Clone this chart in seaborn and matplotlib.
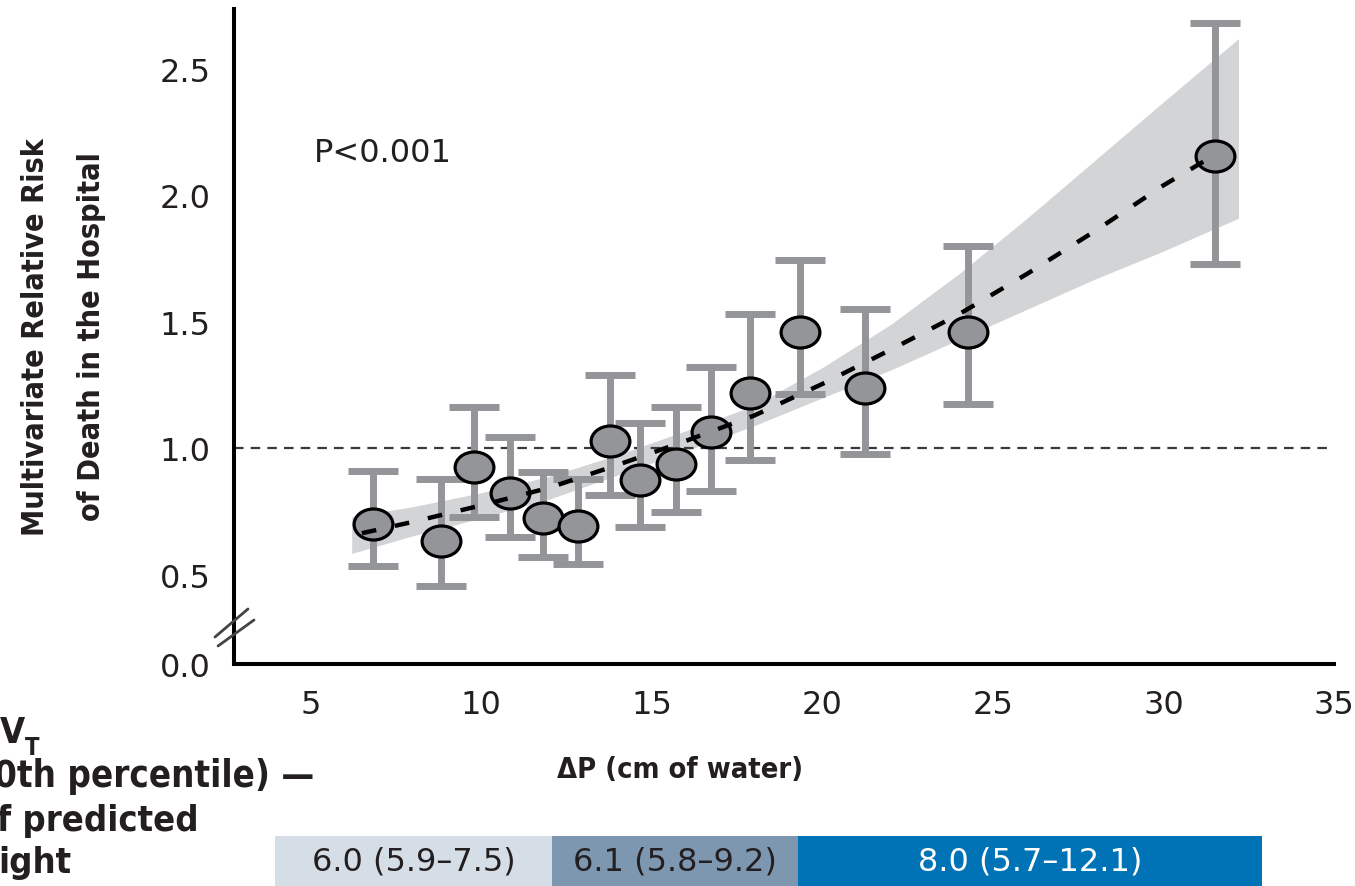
import numpy as np
import pandas as pd
import matplotlib
matplotlib.use("Agg")
import matplotlib.pyplot as plt
import seaborn as sns
from matplotlib.path import Path
from matplotlib.lines import Line2D

# ---------------- data ----------------
delta_p = [6.82, 8.81, 9.80, 10.83, 11.82, 12.85, 13.76, 14.66, 15.72, 16.74, 17.88, 19.35, 21.25, 24.27, 31.50]
rel_risk = [0.70, 0.635, 0.925, 0.825, 0.725, 0.695, 1.03, 0.875, 0.94, 1.065, 1.22, 1.46, 1.24, 1.46, 2.155]
rr_low = [0.535, 0.455, 0.73, 0.65, 0.57, 0.545, 0.815, 0.69, 0.75, 0.83, 0.955, 1.215, 0.98, 1.175, 1.73]
rr_high = [0.91, 0.88, 1.165, 1.045, 0.905, 0.88, 1.29, 1.10, 1.165, 1.32, 1.53, 1.745, 1.55, 1.80, 2.68]

trend_x = [6.5, 8, 10, 12, 14, 16, 18, 20, 22, 24, 26, 28, 30, 31.5]
trend_y = [0.665, 0.71, 0.775, 0.845, 0.935, 1.03, 1.13, 1.255, 1.39, 1.53, 1.69, 1.86, 2.04, 2.16]

band_x = [6.2, 8, 10, 12, 14, 16, 18, 20, 22, 24, 26, 28, 30, 32.2]
band_low = [0.585, 0.655, 0.725, 0.80, 0.895, 0.99, 1.09, 1.20, 1.31, 1.43, 1.55, 1.67, 1.78, 1.91]
band_high = [0.73, 0.77, 0.825, 0.89, 0.975, 1.07, 1.17, 1.32, 1.49, 1.69, 1.91, 2.14, 2.37, 2.62]

x_ticks = [5, 10, 15, 20, 25, 30, 35]
y_ticks = [0.5, 1.0, 1.5, 2.0, 2.5]
y_tick_labels = ["0.5", "1.0", "1.5", "2.0", "2.5"]

vt_edges = [3.95, 12.08, 19.3, 32.9]
vt_labels = ["6.0 (5.9\u20137.5)", "6.1 (5.8\u20139.2)", "8.0 (5.7\u201312.1)"]
vt_colors = ["#d5dde6", "#7e97b0", "#0073b6"]
vt_text_colors = ["#231f20", "#231f20", "white"]

# ---------------- style ----------------
sns.set_style("white")
plt.rcParams['font.family'] = ['DejaVu Sans']
TXT = "#231f20"
BOLD = dict(family=['DejaVu Sans'], fontweight="bold", fontstretch="condensed", color=TXT)

W, H = 1355, 887
fig = plt.figure(figsize=(W / 100, H / 100), dpi=100)
ax_l, ax_r, ax_t, ax_b = 234, 1334, 10, 665
ax = fig.add_axes([ax_l / W, 1 - ax_b / H, (ax_r - ax_l) / W, (ax_b - ax_t) / H])

y_bottom = 0.148
ax.set_xlim(2.75, 35.0)
ax.set_ylim(y_bottom, 2.737)

# band
ax.fill_between(band_x, band_low, band_high, color="#d3d4d6", lw=0, zorder=1)
# reference line at 1.0
ax.axhline(1.0, color="#3a3a3a", lw=1.6, linestyle=(0, (4.3, 3.2)), zorder=1.5)

# error bars
y_arr = np.array(rel_risk)
ax.errorbar(delta_p, rel_risk,
            yerr=[y_arr - np.array(rr_low), np.array(rr_high) - y_arr],
            fmt='none', ecolor="#939598", elinewidth=5, capsize=18, capthick=5, zorder=2)

# points (ellipse marker)
uc = Path.unit_circle()
ellipse = Path(uc.vertices * np.array([1.25, 1.0]), uc.codes)
df = pd.DataFrame({"dp": delta_p, "rr": rel_risk})
sns.scatterplot(data=df, x="dp", y="rr", ax=ax, marker=ellipse, s=780,
                color="#939598", edgecolor="black", linewidth=2.3, zorder=3, legend=False)

# trend line
sns.lineplot(x=trend_x, y=trend_y, ax=ax, color="black", lw=3.2,
             linestyle=(0, (3.3, 4.3)), errorbar=None, zorder=4)

# axes cosmetics
for s in ["top", "right"]:
    ax.spines[s].set_visible(False)
for s in ["left", "bottom"]:
    ax.spines[s].set_linewidth(2.9)
    ax.spines[s].set_color("black")
ax.set_xticks(x_ticks)
ax.set_xticklabels([str(v) for v in x_ticks])
ax.set_yticks([y_bottom] + y_ticks)
ax.set_yticklabels(["0.0"] + y_tick_labels)
ax.tick_params(axis="both", direction="out", width=2.2, colors="black",
               labelcolor=TXT, labelsize=23)
ax.tick_params(axis="y", length=14, pad=3)
ax.tick_params(axis="x", length=13, pad=5)
ax.set_xlabel("")
ax.set_ylabel("")

# axis break marks
for (x0, y0, x1, y1) in [(-0.0173, 0.0412, 0.0127, 0.0840), (-0.0145, 0.0275, 0.0182, 0.0672)]:
    ax.add_line(Line2D([x0, x1], [y0, y1], transform=ax.transAxes, color="#444444",
                       lw=2.0, clip_on=False, zorder=6))

# P value
ax.text(5.1, 2.17, "P<0.001", fontsize=23, color=TXT, ha="left", va="center")

# y label (two lines)
fig.text(36 / W, 1 - 337 / H, "Multivariate Relative Risk", rotation=90, ha="center", va="center",
         fontsize=22, **BOLD)
fig.text(91 / W, 1 - 337 / H, "of Death in the Hospital", rotation=90, ha="center", va="center",
         fontsize=22, **BOLD)

# x label
fig.text(680 / W, 1 - 770 / H, "\u0394P (cm of water)", ha="center", va="center",
         fontsize=20.8, **BOLD)

# clipped left-side legend text
fig.text(0 / W, 1 - 743 / H, "V", ha="left", va="baseline", fontsize=26, **BOLD)
fig.text(25 / W, 1 - 755 / H, "T", ha="left", va="baseline", fontsize=17, **BOLD)
fig.text(-6 / W, 1 - 787 / H, "0th percentile) \u2014", ha="left", va="baseline", fontsize=26.3, **BOLD)
fig.text(-3 / W, 1 - 831 / H, "f predicted", ha="left", va="baseline", fontsize=26, **BOLD)
fig.text(-2 / W, 1 - 873 / H, "ight", ha="left", va="baseline", fontsize=26, **BOLD)

# tertile bar
bar_top, bar_bot = 837, 887
ax2 = fig.add_axes([ax_l / W, 1 - bar_bot / H, (ax_r - ax_l) / W, (bar_bot - bar_top) / H])
ax2.set_xlim(2.75, 35.0)
ax2.set_ylim(0, 1)
for i in range(len(vt_labels)):
    left, right = vt_edges[i], vt_edges[i + 1]
    ax2.barh(0.5, right - left, left=left, height=1.0, color=vt_colors[i], lw=0)
    ax2.text((left + right) / 2, 0.5, vt_labels[i], ha="center", va="center",
             fontsize=23, color=vt_text_colors[i])
ax2.axis("off")

fig.savefig("out.png", dpi=100)
